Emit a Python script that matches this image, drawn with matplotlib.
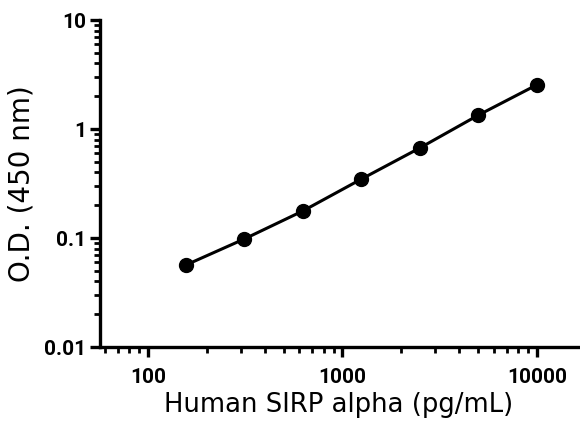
import matplotlib
matplotlib.use("Agg")
import matplotlib.pyplot as plt
from matplotlib.ticker import LogLocator, FixedLocator, FixedFormatter

# Datos de la curva estándar
conc = [156.25, 312.5, 625, 1250, 2500, 5000, 10000]
od = [0.0565, 0.098, 0.177, 0.347, 0.67, 1.34, 2.54]

x_ticks = [100, 1000, 10000]
x_labels = ["100", "1000", "10000"]
y_ticks = [0.01, 0.1, 1, 10]
y_labels = ["0.01", "0.1", "1", "10"]

plt.rcParams["font.family"] = ["Roboto", "DejaVu Sans"]
plt.rcParams["font.weight"] = "bold"

fig = plt.figure(figsize=(5.8, 4.24), dpi=100)
ax = fig.add_axes([0.1724, 0.1816, 0.8242, 0.7712])

# Línea y puntos
ax.plot(conc, od, color="black", linewidth=2.2, marker="o", markersize=10)

ax.set_xscale("log")
ax.set_yscale("log")
ax.set_xlim(56.5, 16300)
ax.set_ylim(0.01, 10)

ax.xaxis.set_major_locator(FixedLocator(x_ticks))
ax.xaxis.set_major_formatter(FixedFormatter(x_labels))
ax.yaxis.set_major_locator(FixedLocator(y_ticks))
ax.yaxis.set_major_formatter(FixedFormatter(y_labels))
ax.xaxis.set_minor_locator(LogLocator(base=10, subs=range(2, 10), numticks=20))
ax.yaxis.set_minor_locator(LogLocator(base=10, subs=range(2, 10), numticks=20))

for s in ["top", "right"]:
    ax.spines[s].set_visible(False)
for s in ["left", "bottom"]:
    ax.spines[s].set_linewidth(2.4)

ax.tick_params(which="major", direction="out", length=7, width=2.4, labelsize=15)
ax.tick_params(axis="x", which="major", pad=8)
ax.tick_params(axis="y", which="major", pad=3)
ax.tick_params(which="minor", direction="out", length=4, width=2)

ax.set_xlabel("Human SIRP alpha (pg/mL)", fontsize=18.6, family="DejaVu Sans",
              fontweight="normal", labelpad=4)
ax.set_ylabel("O.D. (450 nm)", fontsize=20, family="DejaVu Sans",
              fontweight="normal", labelpad=6)

fig.savefig("out.png", dpi=100)
